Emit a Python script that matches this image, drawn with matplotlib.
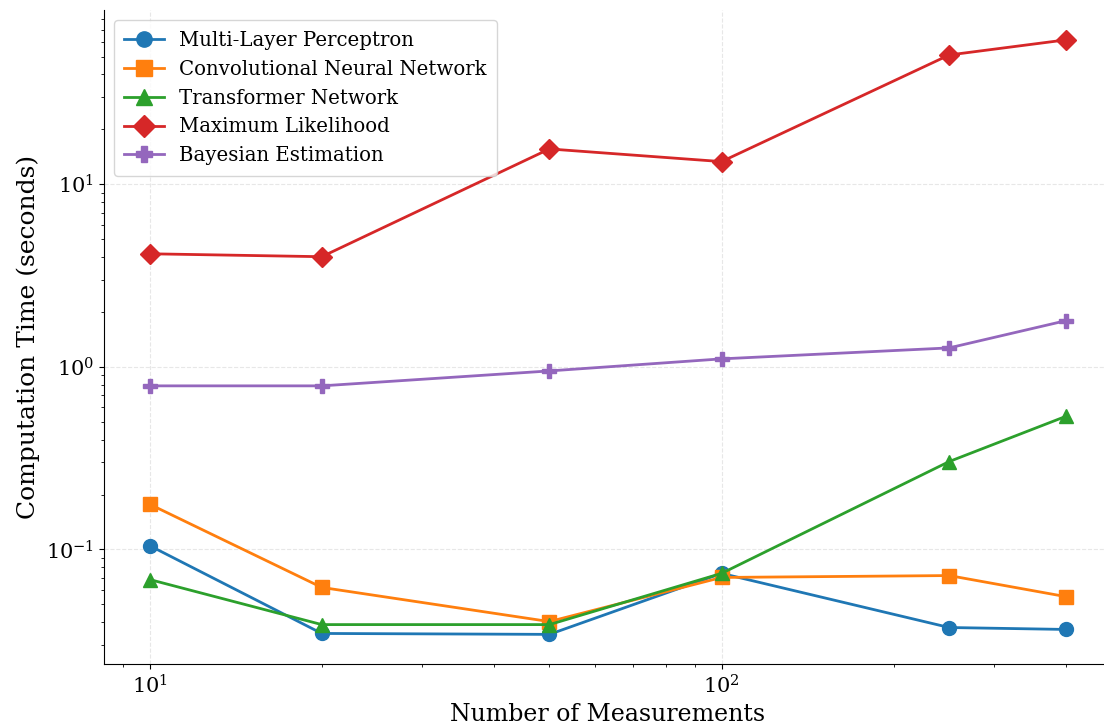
import matplotlib
matplotlib.use("Agg")
import matplotlib.pyplot as plt

plt.rcParams['font.family'] = ['DejaVu Serif']
plt.rcParams['mathtext.fontset'] = 'dejavuserif'

measurements = [10, 20, 50, 100, 250, 400]
mlp = [0.105, 0.0347, 0.0343, 0.074, 0.0374, 0.0365]
cnn = [0.177, 0.062, 0.0403, 0.0703, 0.072, 0.0552]
transformer = [0.0685, 0.0388, 0.0388, 0.074, 0.303, 0.536]
max_likelihood = [4.16, 4.01, 15.6, 13.3, 51.0, 61.7]
bayesian = [0.787, 0.787, 0.95, 1.106, 1.27, 1.79]

series = [
    ("Multi-Layer Perceptron", mlp, "o", "#1f77b4"),
    ("Convolutional Neural Network", cnn, "s", "#ff7f0e"),
    ("Transformer Network", transformer, "^", "#2ca02c"),
    ("Maximum Likelihood", max_likelihood, "D", "#d62728"),
    ("Bayesian Estimation", bayesian, "P", "#9467bd"),
]

fig, ax = plt.subplots(figsize=(11.04, 7.25), dpi=100)
for label, vals, marker, color in series:
    ax.plot(measurements, vals, marker=marker, color=color, label=label,
            linewidth=2, markersize=10)

ax.set_xscale('log')
ax.set_yscale('log')
ax.set_xlabel("Number of Measurements", fontsize=17)
ax.set_ylabel("Computation Time (seconds)", fontsize=18)
ax.tick_params(axis='both', which='major', labelsize=15)
ax.grid(True, which='major', linestyle='--', alpha=0.3)
ax.spines['top'].set_visible(False)
ax.spines['right'].set_visible(False)
ax.legend(fontsize=14.2, loc='upper left', markerscale=1.1,
          labelspacing=0.5, borderpad=0.55, handletextpad=0.75)

fig.subplots_adjust(left=0.094, right=1.007, top=0.986, bottom=0.084)
fig.savefig("out.png", dpi=100)
